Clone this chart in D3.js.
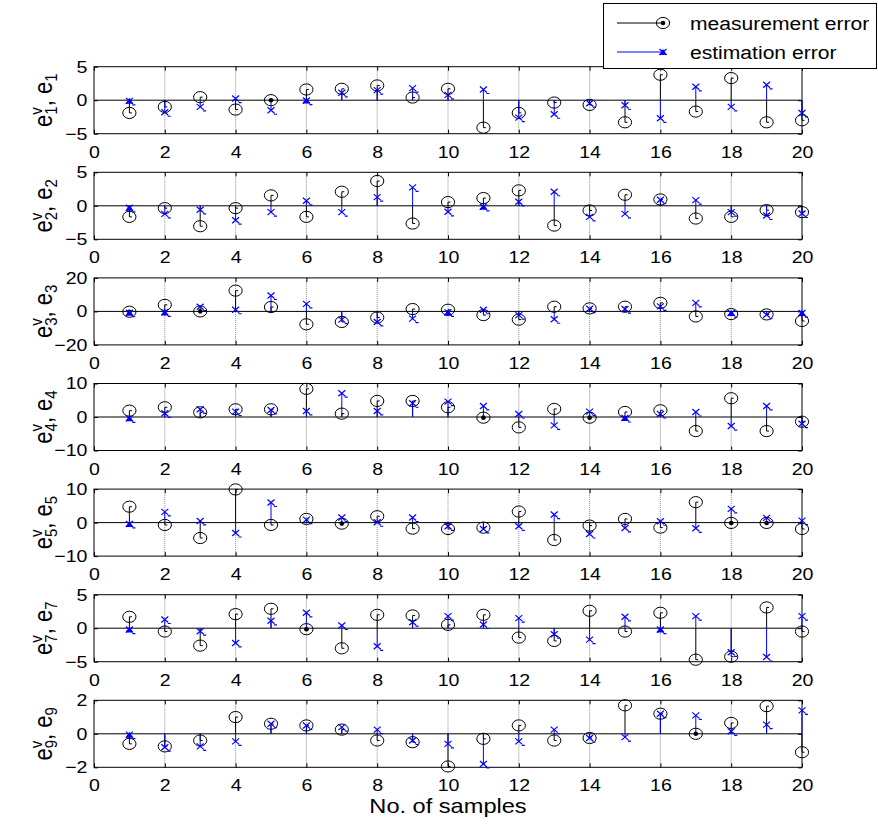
<!DOCTYPE html>
<meta charset="utf-8">
<script src="https://cdnjs.cloudflare.com/ajax/libs/d3/7.8.5/d3.min.js"></script>
<style>
  body { margin: 0; background: #fff; }
  text { font-family: "Liberation Sans", Arial, sans-serif; fill: #000; }
</style>
<div id="chart"></div>
<script>

// samples on the x axis
var samples = d3.range(1, 21);
var xTicks = [0, 2, 4, 6, 8, 10, 12, 14, 16, 18, 20];

// which state each subplot shows, and its y limit
var stateIdx = [1, 2, 3, 4, 5, 7, 9];
var yLimits  = [5, 5, 20, 10, 10, 5, 2];

// measurement error (black circles) per subplot
var meas1 = [-1.9, -1.0, 0.45, -1.4, 0, 1.6, 1.7, 2.2, 0.4, 1.7, -4.1, -1.9, -0.35, -0.7, -3.3, 3.8, -1.7, 3.3, -3.3, -3.0];
var meas2 = [-1.65, -0.35, -3.05, -0.35, 1.55, -1.65, 2.1, 3.7, -2.65, 0.55, 1.15, 2.3, -2.95, -0.7, 1.65, 0.95, -1.9, -1.65, -0.65, -0.95];
var meas3 = [-0.2, 3.9, 0, 12.4, 2.6, -7.7, -6.3, -3.65, 1.4, 1.0, -2.2, -4.9, 2.8, 1.8, 2.8, 5.1, -3.0, -1.6, -1.8, -5.7];
var meas4 = [1.9, 2.9, 1.4, 2.3, 2.3, 8.4, 1.0, 4.8, 4.8, 2.9, -0.2, -3.1, 2.4, -0.2, 1.5, 2.0, -4.2, 5.6, -4.2, -1.4];
var meas5 = [4.75, -0.7, -4.6, 9.9, -0.7, 1.1, -0.3, 1.9, -1.8, -1.9, -1.5, 3.3, -5.2, -0.9, 1.1, -1.5, 6.1, -0.1, -0.1, -1.9];
var meas7 = [1.7, -0.5, -2.6, 2.1, 2.9, -0.15, -3.0, 2.0, 1.9, 0.5, 2.0, -1.4, -1.9, 2.6, -0.5, 2.3, -4.7, -4.25, 3.1, -0.5];
var meas9 = [-0.6, -0.75, -0.4, 1.0, 0.6, 0.5, 0.25, -0.4, -0.5, -1.95, -0.3, 0.5, -0.4, -0.25, 1.7, 1.2, 0, 0.65, 1.65, -1.1];

// estimation error (blue crosses) per subplot
var est1 = [-0.1, -1.8, -1.0, 0.25, -1.5, -0.05, 1.1, 1.5, 1.8, 0.8, 1.6, -2.6, -2.1, -0.45, -0.75, -2.7, 2.0, -1.0, 2.3, -1.9];
var est2 = [-0.3, -1.2, -0.6, -2.15, -0.95, 0.75, -0.95, 1.3, 2.75, -0.9, -0.15, 0.6, 2.1, -1.65, -1.2, 0.9, 0.85, -0.95, -1.45, -1.15];
var est3 = [-0.8, -0.6, 2.8, 1.0, 9.5, 4.5, -4.9, -6.3, -4.3, -0.6, 1.0, -2.2, -4.7, 1.6, 1.4, 3.0, 5.1, -1.0, -2.0, -1.0];
var est4 = [-0.4, 1.1, 2.3, 1.6, 2.1, 1.8, 7.1, 1.8, 4.1, 4.6, 3.3, 0.9, -2.5, 1.6, -0.3, 0.9, 1.5, -2.7, 3.3, -2.0];
var est5 = [-0.4, 3.2, 0.5, -3.1, 6.0, 0.9, 1.5, 0.1, 1.5, -1.1, -1.9, -1.1, 2.4, -3.4, -1.6, 0.4, -1.7, 4.1, 1.4, 0.6];
var est7 = [-0.2, 1.3, -0.45, -2.2, 1.1, 2.3, 0.4, -2.7, 0.9, 1.8, 0.55, 1.5, -0.9, -1.7, 1.7, -0.2, 1.8, -3.6, -4.3, 1.8];
var est9 = [-0.05, -0.8, -0.75, -0.45, 0.6, 0.5, 0.4, 0.25, -0.4, -0.6, -1.8, -0.45, 0.25, -0.25, -0.2, 1.2, 1.1, 0.15, 0.55, 1.4];

var measData = [meas1, meas2, meas3, meas4, meas5, meas7, meas9];
var estData  = [est1, est2, est3, est4, est5, est7, est9];

var width = 878, height = 826;
var left = 94, right = 802, firstTop = 66.7, step = 105.6, panelH = 67;
var blue = "#0000ff";
var sx = 1.15; // the picture is a little wider than tall

var svg = d3.select("#chart").append("svg")
  .attr("width", width)
  .attr("height", height);

var x = d3.scaleLinear().domain([0, 20]).range([left, right]);

function styleTicks(sel) {
  sel.select(".domain").remove();
  sel.selectAll(".tick line").attr("stroke", "#000");
  sel.selectAll("text").attr("font-size", 17).attr("fill", "#000")
    .attr("font-family", "'Liberation Sans', Arial, sans-serif");
}

stateIdx.forEach(function(k, i) {
  var top = firstTop + i * step;
  var lim = yLimits[i];
  var y = d3.scaleLinear().domain([-lim, lim]).range([top + panelH, top]);
  var g = svg.append("g");
  var y0 = y(0);

  // grid
  g.selectAll(".grid")
    .data(xTicks.slice(1, -1))
    .enter().append("line")
    .attr("x1", function(d) { return x(d); })
    .attr("x2", function(d) { return x(d); })
    .attr("y1", top).attr("y2", top + panelH)
    .attr("stroke", "#8c8c8c")
    .attr("stroke-dasharray", "1,1");

  // stem baseline
  g.append("line")
    .attr("x1", x(0)).attr("x2", x(20))
    .attr("y1", y0).attr("y2", y0)
    .attr("stroke", "#000");

  // axes, ticks pointing inwards
  var bx = g.append("g").attr("transform", "translate(0," + (top + panelH) + ")")
    .call(d3.axisBottom(x).tickValues(xTicks).tickSizeInner(-4).tickSizeOuter(0).tickPadding(12));
  styleTicks(bx);
  bx.selectAll("text").attr("transform", "scale(" + sx + ",1)");

  var tx = g.append("g").attr("transform", "translate(0," + top + ")")
    .call(d3.axisTop(x).tickValues(xTicks).tickSizeInner(-4).tickSizeOuter(0).tickFormat(""));
  styleTicks(tx);

  var ly = g.append("g").attr("transform", "translate(" + left + ",0)")
    .call(d3.axisLeft(y).tickValues([-lim, 0, lim]).tickFormat(d3.format("d"))
      .tickSizeInner(-4).tickSizeOuter(0).tickPadding(6));
  styleTicks(ly);
  ly.selectAll("text").attr("transform", "scale(" + sx + ",1)")
    .attr("x", -6 / sx - 0.5);

  var ry = g.append("g").attr("transform", "translate(" + right + ",0)")
    .call(d3.axisRight(y).tickValues([-lim, 0, lim]).tickSizeInner(-4).tickSizeOuter(0).tickFormat(""));
  styleTicks(ry);

  // frame
  g.append("rect")
    .attr("x", left).attr("y", top)
    .attr("width", right - left).attr("height", panelH)
    .attr("fill", "none").attr("stroke", "#000");

  var meas = measData[i], est = estData[i];

  // stems
  g.selectAll(".mstem").data(samples).enter().append("line")
    .attr("x1", function(d) { return x(d); }).attr("x2", function(d) { return x(d); })
    .attr("y1", y0).attr("y2", function(d, j) { return y(meas[j]); })
    .attr("stroke", "#000");
  g.selectAll(".estem").data(samples).enter().append("line")
    .attr("x1", function(d) { return x(d); }).attr("x2", function(d) { return x(d); })
    .attr("y1", y0).attr("y2", function(d, j) { return y(est[j]); })
    .attr("stroke", blue);

  // measurement markers
  samples.forEach(function(s, j) {
    var cx = x(s), cy = y(meas[j]);
    g.append("ellipse").attr("cx", cx).attr("cy", cy).attr("rx", 6.6).attr("ry", 5.6)
      .attr("fill", "none").attr("stroke", "#000");
    g.append("line").attr("x1", cx).attr("x2", cx + 2.5).attr("y1", cy).attr("y2", cy).attr("stroke", "#000");
    if (meas[j] <= 0 && cy - y0 < 2.2) {
      g.append("circle").attr("cx", cx).attr("cy", cy).attr("r", 2.3).attr("fill", "#000");
    }
  });

  // estimation markers
  samples.forEach(function(s, j) {
    var cx = x(s), cy = y(est[j]);
    g.append("path")
      .attr("d", "M" + (cx - 3.5) + "," + (cy - 3) + "L" + (cx + 3.5) + "," + (cy + 3) +
                 "M" + (cx - 3.5) + "," + (cy + 3) + "L" + (cx + 3.5) + "," + (cy - 3) +
                 "M" + (cx + 3) + "," + (cy + 4) + "L" + (cx + 6) + "," + (cy + 4))
      .attr("stroke", blue).attr("stroke-width", 1.2).attr("fill", "none");
    if (est[j] < 0 && cy - y0 < 3) {
      g.append("path")
        .attr("d", "M" + (cx - 4) + "," + (cy + 3) + "L" + cx + "," + (cy - 3) + "L" + (cx + 4) + "," + (cy + 3) + "Z")
        .attr("fill", blue);
    }
  });

  // y label like e^v_k, e_k
  var lbl = svg.append("text")
    .attr("transform", "translate(52," + (top + panelH / 2) + ") scale(" + sx + ",1) rotate(-90)")
    .attr("text-anchor", "middle")
    .attr("font-size", 22);
  lbl.append("tspan").text("e");
  lbl.append("tspan").attr("font-size", 15).attr("dy", -9).text("v");
  lbl.append("tspan").attr("font-size", 15).attr("dx", -7.5).attr("dy", 13).text(k);
  lbl.append("tspan").attr("dy", -4).text(", e");
  lbl.append("tspan").attr("font-size", 15).attr("dy", 4).text(k);
});

// x label
svg.append("text")
  .attr("transform", "translate(448,813) scale(1.18,1)")
  .attr("text-anchor", "middle")
  .attr("font-size", 20)
  .text("No. of samples");

// legend
var leg = svg.append("g");
leg.append("rect")
  .attr("x", 603.5).attr("y", 3.5).attr("width", 273).attr("height", 65)
  .attr("fill", "#fff").attr("stroke", "#000");

leg.append("line").attr("x1", 617).attr("x2", 663).attr("y1", 23).attr("y2", 23).attr("stroke", "#000");
leg.append("ellipse").attr("cx", 663).attr("cy", 23).attr("rx", 6.6).attr("ry", 5.6)
  .attr("fill", "none").attr("stroke", "#000");
leg.append("circle").attr("cx", 663).attr("cy", 23).attr("r", 2.3).attr("fill", "#000");

leg.append("line").attr("x1", 617).attr("x2", 663).attr("y1", 52).attr("y2", 52).attr("stroke", blue);
leg.append("path").attr("d", "M659,55L663,49L667,55Z").attr("fill", blue);
leg.append("path").attr("d", "M659.5,49L666.5,55M659.5,55L666.5,49").attr("stroke", blue).attr("stroke-width", 1.2);

var legendLabels = ["measurement error", "estimation error"];
leg.selectAll(".lt").data(legendLabels).enter().append("text")
  .attr("transform", function(d, i) { return "translate(690," + (30 + i * 29) + ") scale(1.11,1)"; })
  .attr("font-size", 19)
  .text(function(d) { return d; });

</script>
